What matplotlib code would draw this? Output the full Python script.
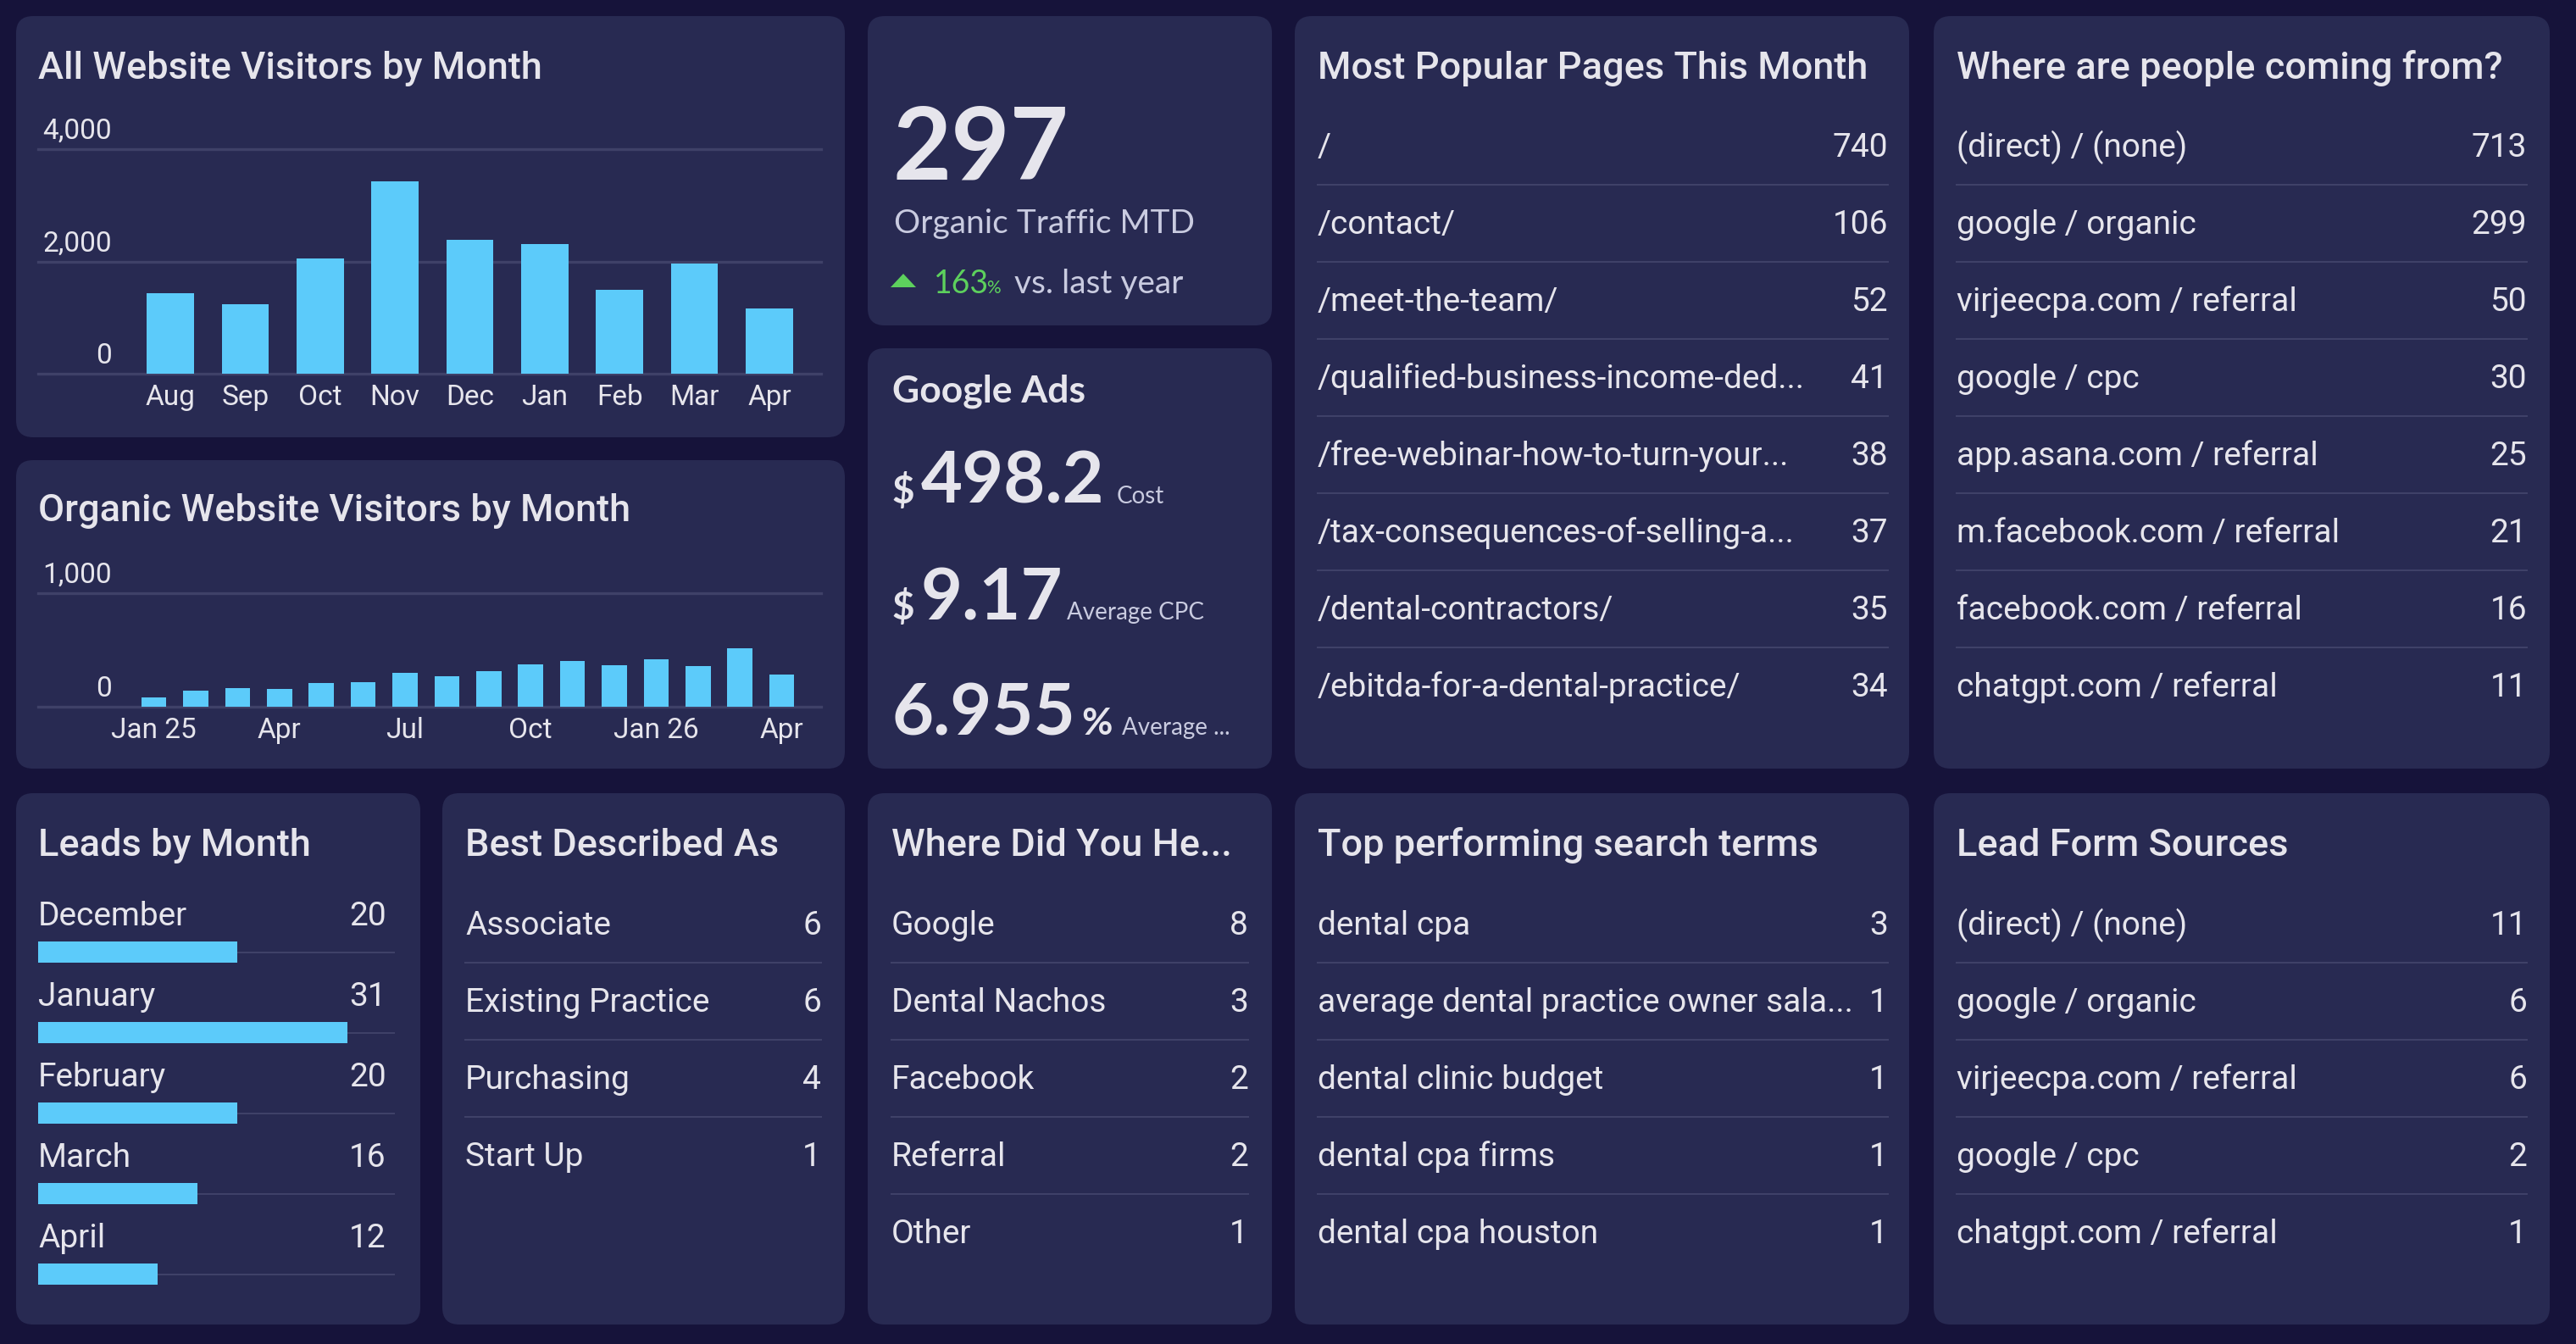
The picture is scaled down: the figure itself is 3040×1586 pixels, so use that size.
import matplotlib
matplotlib.use("Agg")
import matplotlib.pyplot as plt
from matplotlib.patches import FancyBboxPatch, Polygon
from matplotlib import transforms

# ---- data ----
visit_months = ["Aug", "Sep", "Oct", "Nov", "Dec", "Jan", "Feb", "Mar", "Apr"]
visit_counts = [1427, 1233, 2048, 3424, 2385, 2303, 1488, 1967, 1157]
visit_ticks = [0, 2000, 4000]

organic_counts = [82, 139, 164, 157, 206, 216, 299, 266, 316, 373, 403, 366, 415, 358, 517, 286]
organic_tick_pos = [0, 3, 6, 9, 12, 15]
organic_tick_labels = ["Jan 25", "Apr", "Jul", "Oct", "Jan 26", "Apr"]
organic_ticks = [0, 1000]

organic_mtd = 297
organic_yoy = 163
ads_cost = 498.2
ads_cpc = 9.17
ads_rate = 6.955

pages = ["/", "/contact/", "/meet-the-team/", "/qualified-business-income-ded...",
         "/free-webinar-how-to-turn-your...", "/tax-consequences-of-selling-a...",
         "/dental-contractors/", "/ebitda-for-a-dental-practice/"]
page_views = [740, 106, 52, 41, 38, 37, 35, 34]

sources = ["(direct) / (none)", "google / organic", "virjeecpa.com / referral", "google / cpc",
           "app.asana.com / referral", "m.facebook.com / referral", "facebook.com / referral",
           "chatgpt.com / referral"]
source_users = [713, 299, 50, 30, 25, 21, 16, 11]

lead_months = ["December", "January", "February", "March", "April"]
lead_counts = [20, 31, 20, 16, 12]

described = ["Associate", "Existing Practice", "Purchasing", "Start Up"]
described_counts = [6, 6, 4, 1]

heard = ["Google", "Dental Nachos", "Facebook", "Referral", "Other"]
heard_counts = [8, 3, 2, 2, 1]

terms = ["dental cpa", "average dental practice owner sala...", "dental clinic budget",
         "dental cpa firms", "dental cpa houston"]
term_counts = [3, 1, 1, 1, 1]

form_sources = ["(direct) / (none)", "google / organic", "virjeecpa.com / referral",
                "google / cpc", "chatgpt.com / referral"]
form_counts = [11, 6, 6, 2, 1]

# ---- style ----
BG = "#16133a"
PANEL = "#282a52"
TEXT = "#e6e5ec"
SUB = "#c9cbe0"
BAR = "#5ccbfa"
GRID = "#3f4168"
GREEN = "#5dd05d"
W, H = 3040, 1586
TITLE_FS = 32.5
ROW_FS = 28
TICK_FS = 24

plt.rcParams["font.family"] = ["Roboto", "DejaVu Sans"]
KPI_FONT = ["Lato", "DejaVu Sans"]

fig = plt.figure(figsize=(W / 100, H / 100), dpi=100, facecolor=BG)
bg = fig.add_axes([0, 0, 1, 1])
bg.set_xlim(0, W)
bg.set_ylim(H, 0)
bg.set_axis_off()


def panel(x0, y0, x1, y1):
    bg.add_patch(FancyBboxPatch((x0, y0), x1 - x0, y1 - y0,
                                boxstyle="round,pad=0,rounding_size=20",
                                fc=PANEL, ec="none"))


def px_axes(x0, y0, x1, y1):
    a = fig.add_axes([x0 / W, 1 - y1 / H, (x1 - x0) / W, (y1 - y0) / H])
    a.set_axis_off()
    return a


def off(a, dy):
    return transforms.offset_copy(a.transData, fig=fig, x=0, y=dy, units="dots")


def title(x, y, s):
    bg.text(x, y, s, fontsize=TITLE_FS, color=TEXT, fontweight="medium", va="baseline")


def row_list(x0, x1, y_first, labels, values):
    for i, (lab, val) in enumerate(zip(labels, values)):
        y = y_first + 91 * i
        bg.text(x0, y, lab, fontsize=ROW_FS, color=TEXT, va="baseline")
        bg.text(x1, y, str(val), fontsize=ROW_FS, color=TEXT, va="baseline", ha="right")
        if i < len(labels) - 1:
            bg.plot([x0, x1], [y + 33, y + 33], color=GRID, lw=1.5)


panels = [(19, 19, 997, 516), (19, 543, 997, 907), (1024, 19, 1501, 384),
          (1024, 411, 1501, 907), (1528, 19, 2253, 907), (2282, 19, 3009, 907),
          (19, 936, 496, 1563), (522, 936, 997, 1563), (1024, 936, 1501, 1563),
          (1528, 936, 2253, 1563), (2282, 936, 3009, 1563)]
for p in panels:
    panel(*p)

# ---- All website visitors ----
title(45, 93, "All Website Visitors by Month")
axA = px_axes(45, 176, 969, 441)
axA.set_xlim(-1.765, 8.69)
axA.set_ylim(0, 4000)
axA.bar(range(len(visit_counts)), visit_counts, width=0.63, color=BAR, zorder=3)
for v in visit_ticks:
    axA.axhline(v, color=GRID, lw=2.4, zorder=1, clip_on=False)
    axA.text(-0.78, v, f"{v:,}", transform=off(axA, 12), ha="right", va="baseline",
             fontsize=TICK_FS, color=TEXT)
for i, m in enumerate(visit_months):
    axA.text(i, 0, m, transform=off(axA, -37), ha="center", va="baseline",
             fontsize=TICK_FS, color=TEXT)

# ---- Organic visitors ----
title(45, 615, "Organic Website Visitors by Month")
axB = px_axes(45, 700, 969, 834)
axB.set_xlim(-2.765, 15.94)
axB.set_ylim(0, 1000)
axB.bar(range(len(organic_counts)), organic_counts, width=0.6, color=BAR, zorder=3)
for v in organic_ticks:
    axB.axhline(v, color=GRID, lw=2.4, zorder=1, clip_on=False)
    axB.text(-1.0, v, f"{v:,}", transform=off(axB, 12), ha="right", va="baseline",
             fontsize=TICK_FS, color=TEXT)
for p, lab in zip(organic_tick_pos, organic_tick_labels):
    axB.text(p, 0, lab, transform=off(axB, -37), ha="center", va="baseline",
             fontsize=TICK_FS, color=TEXT)

# ---- KPI: organic traffic ----
bg.text(1053, 211, f"{organic_mtd}", family=KPI_FONT, fontweight="bold", fontsize=86,
        color=TEXT, va="baseline")
bg.text(1055, 275, "Organic Traffic MTD", family=KPI_FONT, fontsize=28, color=SUB, va="baseline")
bg.add_patch(Polygon([(1051, 339), (1081, 339), (1066, 323)], closed=True, fc=GREEN, ec="none"))
bg.text(1102, 346, f"{organic_yoy}", family=KPI_FONT, fontsize=27, color=GREEN, va="baseline")
bg.text(1164, 346, "%", family=KPI_FONT, fontsize=15, color=GREEN, va="baseline")
bg.text(1197, 346, "vs. last year", family=KPI_FONT, fontsize=28, color=SUB, va="baseline")

# ---- KPI: google ads ----
bg.text(1053, 474, "Google Ads", family=KPI_FONT, fontweight="bold", fontsize=32,
        color=TEXT, va="baseline")
kpi_rows = [("$", f"{ads_cost}", "Cost", 594, 14), ("$", f"{ads_cpc}", "Average CPC", 731, 4)]
for cur, num, lab, y, gap in kpi_rows:
    bg.text(1053, y, cur, family=KPI_FONT, fontweight="bold", fontsize=33,
            color=TEXT, va="baseline")
    t2 = bg.text(1087, y, num, family=KPI_FONT, fontweight="bold", fontsize=61,
                 color=TEXT, va="baseline")
    fig.canvas.draw()
    bb = t2.get_window_extent()
    bg.text(bb.x1 + gap, y, lab, family=KPI_FONT, fontsize=20, color=SUB, va="baseline")
t3 = bg.text(1053, 867, f"{ads_rate}", family=KPI_FONT, fontweight="bold", fontsize=61,
             color=TEXT, va="baseline")
fig.canvas.draw()
bb = t3.get_window_extent()
t4 = bg.text(bb.x1 + 6, 867, "%", family=KPI_FONT, fontweight="bold", fontsize=32,
             color=TEXT, va="baseline")
fig.canvas.draw()
bb = t4.get_window_extent()
bg.text(bb.x1 + 12, 867, "Average ...", family=KPI_FONT, fontsize=20, color=SUB, va="baseline")

# ---- lists ----
title(1555, 93, "Most Popular Pages This Month")
row_list(1555, 2228, 185, pages, page_views)
title(2309, 93, "Where are people coming from?")
row_list(2309, 2982, 185, sources, source_users)

title(549, 1010, "Best Described As")
row_list(549, 969, 1103, described, described_counts)
title(1052, 1010, "Where Did You He...")
row_list(1052, 1473, 1103, heard, heard_counts)
title(1555, 1010, "Top performing search terms")
row_list(1555, 2228, 1103, terms, term_counts)
title(2309, 1010, "Lead Form Sources")
row_list(2309, 2982, 1103, form_sources, form_counts)

# ---- leads by month ----
title(45, 1010, "Leads by Month")
axL = px_axes(45, 1076, 466, 1551)
axL.set_xlim(0, 35.77)
axL.set_ylim(len(lead_counts) - 0.5, -0.5)
axL.hlines(range(len(lead_counts)), 0, 35.77, color=GRID, lw=1.5, zorder=1)
axL.barh(range(len(lead_counts)), lead_counts, height=0.26, color=BAR, zorder=3)
for i, (m, c) in enumerate(zip(lead_months, lead_counts)):
    axL.text(0, i, m, transform=off(axL, 31.5), va="baseline", fontsize=ROW_FS, color=TEXT)
    axL.text(34.9, i, str(c), transform=off(axL, 31.5), va="baseline", ha="right",
             fontsize=ROW_FS, color=TEXT)

fig.savefig("out.png", dpi=100, facecolor=BG)
